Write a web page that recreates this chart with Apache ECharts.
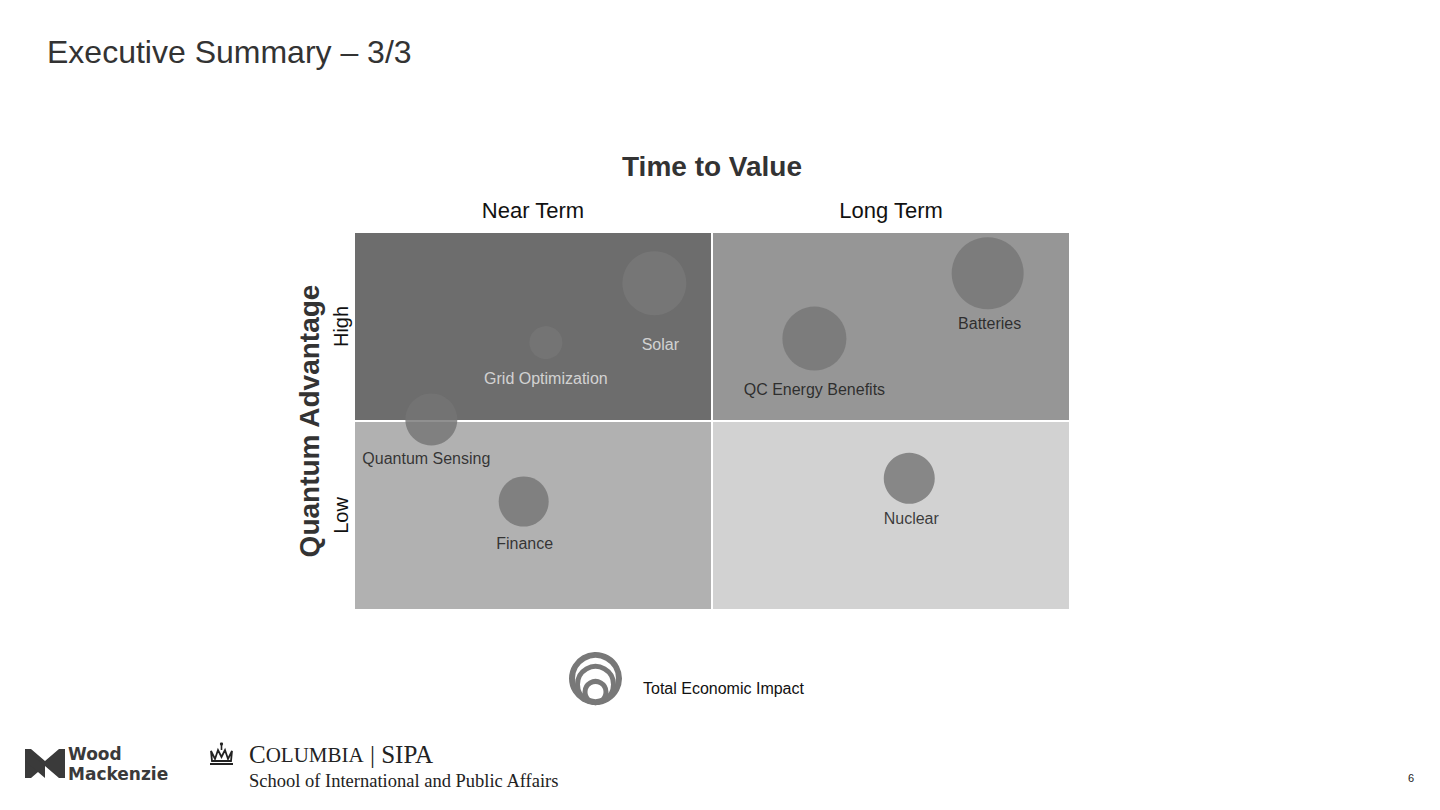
<!DOCTYPE html>
<html>
<head>
<meta charset="utf-8">
<script src="https://cdn.jsdelivr.net/npm/echarts@6/dist/echarts.min.js"></script>
<style>
html,body{margin:0;padding:0;background:#fff;}
#chart{width:1440px;height:810px;}
</style>
</head>
<body>
<div id="chart"></div>
<script>
// ---- data ----
var names = ['Solar', 'Grid Optimization', 'Quantum Sensing', 'Finance', 'QC Energy Benefits', 'Batteries', 'Nuclear'];
var timeToValue = [0.839, 0.536, 0.216, 0.474, 1.286, 1.770, 1.551];   // 0-1 near term, 1-2 long term
var quantumAdvantage = [1.729, 1.415, 1.008, 0.574, 1.436, 1.782, 0.697]; // 0-1 low, 1-2 high
var economicImpact = [64, 33, 52, 50, 64, 72, 51];
var timeLabels = ['Near Term', 'Long Term'];
var advantageLabels = ['Low', 'High'];
var quadrantX = [0, 1, 0, 1];
var quadrantY = [1, 1, 0, 0];

// ---- styles ----
var quadrantColors = ['#6d6d6d', '#969696', '#b1b1b1', '#d2d2d2'];
var bubbleColors = ['#787878', '#767676', '#747474', '#747474', '#767676', '#767676', '#747474'];
var labelColors = ['#eeeeee', '#eeeeee', '#111111', '#111111', '#111111', '#111111', '#111111'];
var labelDist = [21, 11, 5, 9, 11, 6, 7];
var labelDx = [6, 0, -5, 1, 0, 2, 2];
var FONT = '"Liberation Sans", Arial, sans-serif';
var SERIF = '"Liberation Serif", "DejaVu Serif", serif';
var LOGO = '"DejaVu Sans", sans-serif';

var bubbleData = names.map(function (n, i) {
  return {
    name: n,
    value: [timeToValue[i], quantumAdvantage[i], economicImpact[i]],
    itemStyle: { color: bubbleColors[i] },
    label: { color: labelColors[i], distance: labelDist[i], offset: [labelDx[i], 0] }
  };
});
var quadData = quadrantX.map(function (x, i) {
  return { value: [x, quadrantY[i]], itemStyle: { color: quadrantColors[i] } };
});

var chart = echarts.init(document.getElementById('chart'), null, { renderer: 'svg' });
chart.setOption({
  backgroundColor: '#ffffff',
  animation: false,
  title: {
    text: 'Executive Summary – 3/3',
    left: 42, top: 31,
    textStyle: { fontFamily: FONT, fontSize: 32, fontWeight: 'normal', color: '#333333' }
  },
  grid: { left: 354, right: 370, top: 232, bottom: 200 },
  xAxis: [
    { type: 'value', min: 0, max: 2, show: false },
    {
      type: 'category', position: 'top', data: timeLabels,
      name: 'Time to Value', nameLocation: 'middle', nameGap: 52,
      nameTextStyle: { fontFamily: FONT, fontSize: 28, fontWeight: 'bold', color: '#333333' },
      axisLine: { show: false }, axisTick: { show: false }, splitLine: { show: false },
      axisLabel: { margin: 11, fontFamily: FONT, fontSize: 22, color: '#111111' }
    }
  ],
  yAxis: [
    { type: 'value', min: 0, max: 2, show: false },
    {
      type: 'category', position: 'left', data: advantageLabels,
      name: 'Quantum Advantage', nameLocation: 'middle', nameGap: 31, nameRotate: 90,
      nameTextStyle: { fontFamily: FONT, fontSize: 28, fontWeight: 'bold', color: '#333333' },
      axisLine: { show: false }, axisTick: { show: false }, splitLine: { show: false },
      axisLabel: { rotate: 90, margin: 3, fontFamily: FONT, fontSize: 20, color: '#111111' }
    }
  ],
  series: [
    {
      type: 'custom', xAxisIndex: 0, yAxisIndex: 0, z: 1, silent: true,
      data: quadData,
      renderItem: function (params, api) {
        var x = api.value(0), y = api.value(1);
        var p0 = api.coord([x, y + 1]);
        var p1 = api.coord([x + 1, y]);
        return {
          type: 'rect',
          shape: { x: p0[0] + 1, y: p0[1] + 1, width: p1[0] - p0[0] - 2, height: p1[1] - p0[1] - 2 },
          style: { fill: api.visual('color') }
        };
      }
    },
    {
      type: 'scatter', xAxisIndex: 0, yAxisIndex: 0, z: 3,
      data: bubbleData,
      symbolSize: function (v) { return v[2]; },
      label: {
        show: true, position: 'bottom',
        formatter: function (p) { return p.name; },
        fontFamily: FONT, fontSize: 16
      }
    }
  ],
  graphic: [
    // legend icon: total economic impact
    { type: 'circle', shape: { cx: 595.5, cy: 678.5, r: 23.5 }, style: { fill: 'none', stroke: '#787878', lineWidth: 6 } },
    { type: 'circle', shape: { cx: 595.5, cy: 684.5, r: 18 }, style: { fill: 'none', stroke: '#787878', lineWidth: 5 } },
    { type: 'circle', shape: { cx: 595.5, cy: 692, r: 10.5 }, style: { fill: 'none', stroke: '#787878', lineWidth: 5 } },
    { type: 'text', left: 643, top: 680, style: { text: 'Total Economic Impact', fontFamily: FONT, fontSize: 16, fill: '#111111' } },
    // Wood Mackenzie logo
    { type: 'polygon', shape: { points: [[25,749],[31,749],[45,761],[59,749],[65,749],[65,778],[59,778],[45,766],[31,778],[25,778]] }, style: { fill: '#3a3a3a' } },
    { type: 'polygon', shape: { points: [[25,749],[45,766],[45,778],[25,761]] }, style: { fill: '#3a3a3a' } },
    { type: 'text', left: 68, top: 745, style: { text: 'Wood', fontFamily: LOGO, fontSize: 17, fontWeight: 'bold', fill: '#3a3a3a' } },
    { type: 'text', left: 68, top: 765, style: { text: 'Mackenzie', fontFamily: LOGO, fontSize: 17, fontWeight: 'bold', fill: '#3a3a3a' } },
    // Columbia crown
    { type: 'polygon', shape: { points: [[211,751],[215,759],[218,750],[221.5,757],[225,750],[228,759],[232,751],[231,761],[212,761]] }, style: { fill: 'none', stroke: '#222', lineWidth: 1.8 } },
    { type: 'rect', shape: { x: 210, y: 763, width: 23, height: 2 }, style: { fill: '#222' } },
    { type: 'circle', shape: { cx: 221.5, cy: 744, r: 1.6 }, style: { fill: '#222' } },
    { type: 'rect', shape: { x: 220.7, y: 745, width: 1.6, height: 5 }, style: { fill: '#222' } },
    {
      type: 'text', left: 249, top: 742,
      style: {
        text: '{b|C}{s|OLUMBIA}{b| | SIPA}',
        rich: {
          b: { fontFamily: SERIF, fontSize: 25, fill: '#222222' },
          s: { fontFamily: SERIF, fontSize: 21, fill: '#222222' }
        }
      }
    },
    { type: 'text', left: 249, top: 771, style: { text: 'School of International and Public Affairs', fontFamily: SERIF, fontSize: 18.5, fill: '#222222' } },
    { type: 'text', left: 1408, top: 772, style: { text: '6', fontFamily: FONT, fontSize: 11, fill: '#222222' } }
  ]
});
</script>
</body>
</html>
